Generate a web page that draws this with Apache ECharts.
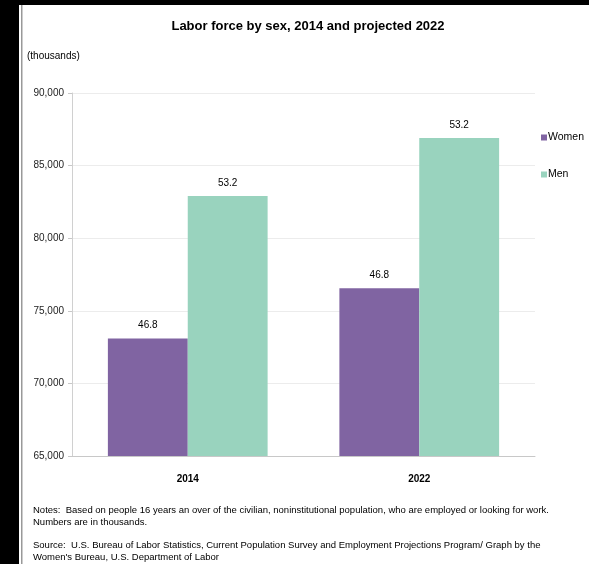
<!DOCTYPE html>
<html>
<head>
<meta charset="utf-8">
<script src="https://cdn.jsdelivr.net/npm/echarts@6/dist/echarts.min.js"></script>
<style>
  html, body { margin: 0; padding: 0; background: #fff; }
  #main { width: 589px; height: 564px; }
</style>
</head>
<body>
<div id="main"></div>
<script>
// data (thousands)
var years = ['2014', '2022'];
var women = [73100, 76550];
var men = [82900, 86900];
// share of labor force (%) shown above bars
var womenShare = ['46.8', '46.8'];
var menShare = ['53.2', '53.2'];
var yTicks = [65000, 70000, 75000, 80000, 85000, 90000];

var chart = echarts.init(document.getElementById('main'));
var font = 'Liberation Sans, Arial, sans-serif';

var option = {
    backgroundColor: '#fff',
    textStyle: { fontFamily: font },
    title: {
        text: 'Labor force by sex, 2014 and projected 2022',
        left: 303,
        textAlign: 'center',
        top: 15,
        textStyle: { fontSize: 13, fontWeight: 'bold', color: '#000', fontFamily: font }
    },
    legend: {
        orient: 'vertical',
        left: 536,
        top: 127,
        itemWidth: 6,
        itemHeight: 6,
        itemGap: 26,
        icon: 'rect',
        textStyle: { fontSize: 10.5, color: '#000', padding: [0, 0, 0, -4] },
        data: ['Women', 'Men']
    },
    grid: { left: 72, top: 93, width: 463, height: 363, containLabel: false },
    xAxis: {
        type: 'category',
        data: years,
        axisLine: { lineStyle: { color: '#c8c8c8' } },
        axisTick: { show: false },
        axisLabel: { fontSize: 10, fontWeight: 'bold', color: '#000', margin: 18 }
    },
    yAxis: {
        type: 'value',
        min: yTicks[0],
        max: yTicks[yTicks.length - 1],
        interval: 5000,
        axisLine: { show: true, lineStyle: { color: '#d0d0d0' } },
        axisTick: { show: true, length: 4, lineStyle: { color: '#c8c8c8' } },
        splitLine: { lineStyle: { color: '#ececec' } },
        axisLabel: {
            fontSize: 10, color: '#222', margin: 8,
            formatter: function (v) { return v.toLocaleString('en-US'); }
        }
    },
    series: [
        {
            name: 'Women',
            type: 'bar',
            data: women,
            barGap: '0%',
            barCategoryGap: '31%',
            itemStyle: { color: '#8064A2' },
            label: {
                show: true, position: 'top', distance: 8, fontSize: 10, color: '#000',
                formatter: function (p) { return womenShare[p.dataIndex]; }
            }
        },
        {
            name: 'Men',
            type: 'bar',
            data: men,
            itemStyle: { color: '#99D3BE' },
            label: {
                show: true, position: 'top', distance: 8, fontSize: 10, color: '#000',
                formatter: function (p) { return menShare[p.dataIndex]; }
            }
        }
    ],
    graphic: [
        { type: 'rect', shape: { x: 0, y: 0, width: 19, height: 564 }, style: { fill: '#000' } },
        { type: 'rect', shape: { x: 0, y: 0, width: 589, height: 5 }, style: { fill: '#000' } },
        { type: 'rect', shape: { x: 21, y: 5, width: 1.5, height: 559 }, style: { fill: '#999' } },
        { type: 'text', left: 27, top: 51, style: { text: '(thousands)', fontSize: 10, fill: '#000', fontFamily: font } },
        { type: 'text', left: 33, top: 504, style: {
            text: 'Notes:  Based on people 16 years an over of the civilian, noninstitutional population, who are employed or looking for work.\nNumbers are in thousands.',
            fontSize: 9.5, lineHeight: 12.5, fill: '#000', fontFamily: font } },
        { type: 'text', left: 33, top: 539, style: {
            text: 'Source:  U.S. Bureau of Labor Statistics, Current Population Survey and Employment Projections Program/ Graph by the\nWomen\'s Bureau, U.S. Department of Labor',
            fontSize: 9.5, lineHeight: 12.5, fill: '#000', fontFamily: font } }
    ]
};

chart.setOption(option);
</script>
</body>
</html>
